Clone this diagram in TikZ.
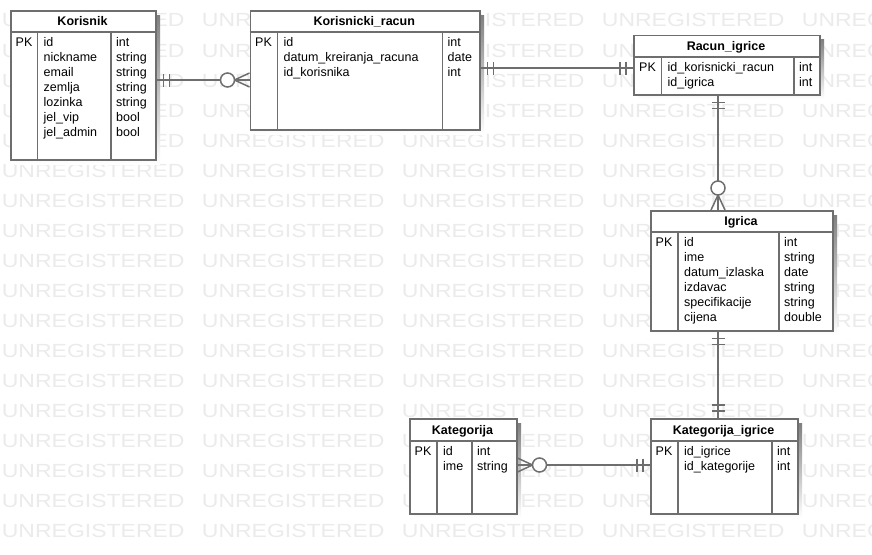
\documentclass[tikz,border=0pt]{standalone}
\usepackage{fontspec}
\setmainfont{Liberation Sans}
\usetikzlibrary{calc}

\definecolor{edge}{HTML}{6E6E6E}
\definecolor{shade}{HTML}{E6E6E6}
\definecolor{wmgray}{HTML}{EBEBEB}

\tikzset{
  tablebox/.style={draw=edge, line width=1.5pt, fill=white, inner sep=0pt, anchor=north west},
  divider/.style={draw=edge, line width=1.5pt},
  titletext/.style={font=\bfseries\fontsize{12.5}{15}\selectfont, inner sep=0pt, anchor=base},
  cell/.style={font=\fontsize{12.5}{15}\selectfont, inner sep=0pt, anchor=base west},
  rel/.style={draw=edge, line width=1.5pt},
  wm/.style={text=wmgray, font=\fontsize{19}{19}\selectfont, inner sep=0pt, anchor=base west},
  % exactly one: two bars across the line
  one/.pic={\draw[rel] (7,-6.5) -- (7,6.5) (13,-6.5) -- (13,6.5);},
  % zero or many: crow's foot plus ring
  many/.pic={\draw[rel] (0,7) -- (15,0) -- (0,-7) (0,0) -- (15,0);
             \draw[rel, fill=white] (22,0) circle (7);},
}

% #1 name, #2 left, #3 top, #4 right, #5 bottom, #6 header line, #7 key divider, #8 type divider, #9 title
\newcommand{\ertable}[9]{%
  \fill[shade] (#2+5,-#3-5) rectangle (#4+5,-#5-5);
  \node[tablebox, minimum width={(#4-#2)*1pt}, minimum height={(#5-#3)*1pt}] (#1) at (#2,-#3) {};
  \draw[divider] (#2,-#6) -- (#4,-#6) (#7,-#6) -- (#7,-#5) (#8,-#6) -- (#8,-#5);
  \node[titletext] (#1-title) at ({(#2+#4)/2},{-(#3+#6)/2-4.5}) {#9};
}

% #1 name, #2 key x, #3 field x, #4 type x, #5 first baseline, #6 fields, #7 types
\newcommand{\errows}[7]{%
  \node[cell] (#1-pk) at (#2,-#5) {PK};
  \foreach \t [count=\i] in {#6} \node[cell] (#1-f\i) at (#3,{-#5-15*(\i-1)}) {\t};
  \foreach \t [count=\i] in {#7} \node[cell] (#1-t\i) at (#4,{-#5-15*(\i-1)}) {\t};
}

\begin{document}
\begin{tikzpicture}[x=1pt, y=1pt]
\useasboundingbox (0,0) rectangle (872,-554);
\fill[white] (0,0) rectangle (872,-554);

% background watermark grid
\begin{scope}
  \clip (0,0) rectangle (872,-554);
  \foreach \r in {0,...,17}
    \foreach \c in {0,...,4}
      \node[wm] (wm-\r-\c) at ({\c*200+1.7},{-27-\r*30}) {\scalebox{1.21}[1]{UNREGISTERED}};
\end{scope}

% tables
\ertable{korisnik}{10}{10}{155}{159}{32}{37.5}{111}{Korisnik}
\errows{korisnik}{15.5}{43.5}{116}{46.5}
  {id,nickname,email,zemlja,lozinka,jel\_vip,jel\_admin}
  {int,string,string,string,string,bool,bool}

\ertable{kracun}{249.5}{10}{479}{129}{32}{277.5}{442.5}{Korisnicki\_racun}
\errows{kracun}{255}{283.5}{447.5}{46.5}
  {id,datum\_kreiranja\_racuna,id\_korisnika}
  {int,date,int}

\ertable{racun}{633}{34.5}{819}{94}{57}{661.5}{794}{Racun\_igrice}
\errows{racun}{639}{667.5}{799}{71}
  {id\_korisnicki\_racun,id\_igrica}
  {int,int}

\ertable{igrica}{650}{210}{832}{330}{232}{678}{779}{Igrica}
\errows{igrica}{655.5}{684}{784}{246.5}
  {id,ime,datum\_izlaska,izdavac,specifikacije,cijena}
  {int,string,date,string,string,double}

\ertable{kategorija}{409}{418}{516}{513}{441}{437}{472}{Kategorija}
\errows{kategorija}{414.5}{443}{477}{455.5}
  {id,ime}
  {int,string}

\ertable{katig}{650}{418}{797}{513}{441}{678}{772}{Kategorija\_igrice}
\errows{katig}{655.5}{684}{777}{455.5}
  {id\_igrice,id\_kategorije}
  {int,int}

% relationship end points
\coordinate (r1a) at ($(korisnik.north east)+(0,-70)$);
\coordinate (r1b) at ($(kracun.north west)+(0,-70)$);
\coordinate (r2a) at ($(kracun.north east)+(0,-58)$);
\coordinate (r2b) at ($(racun.north west)+(0,-33.5)$);
\coordinate (r3a) at ($(racun.south west)+(85,0)$);
\coordinate (r3b) at ($(igrica.north west)+(68,0)$);
\coordinate (r4a) at ($(igrica.south west)+(68,0)$);
\coordinate (r4b) at ($(katig.north west)+(68,0)$);
\coordinate (r5a) at ($(kategorija.north east)+(0,-47)$);
\coordinate (r5b) at ($(katig.north west)+(0,-47)$);

% relationships
\draw[rel] (r1a) -- (r1b);
\pic at (r1a) {one};
\pic[rotate=180] at (r1b) {many};

\draw[rel] (r2a) -- (r2b);
\pic at (r2a) {one};
\pic[rotate=180] at (r2b) {one};

\draw[rel] (r3a) -- (r3b);
\pic[rotate=-90] at (r3a) {one};
\pic[rotate=90] at (r3b) {many};

\draw[rel] (r4a) -- (r4b);
\pic[rotate=-90] at (r4a) {one};
\pic[rotate=90] at (r4b) {one};

\draw[rel] (r5a) -- (r5b);
\pic at (r5a) {many};
\pic[rotate=180] at (r5b) {one};
\end{tikzpicture}
\end{document}
